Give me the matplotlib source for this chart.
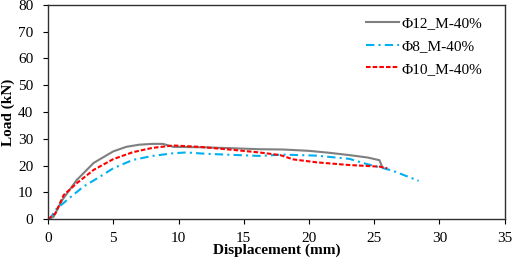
import matplotlib
matplotlib.use("Agg")
import matplotlib.pyplot as plt

plt.rcParams['font.family'] = ['Liberation Serif', 'DejaVu Serif']

phi12_x = [0, 0.43, 1.07, 2.2, 3.5, 5, 6, 7, 8, 8.8, 9.6, 12, 14, 16.2, 18, 20, 21.5, 23.1, 24.5, 25.4, 25.6]
phi12_y = [0, 0.9, 7, 14.6, 21, 25.3, 27, 27.8, 28.1, 28.1, 27, 26.8, 26.5, 26.1, 26.0, 25.5, 24.8, 23.9, 23.0, 22.0, 19.6]

phi8_x = [0, 0.2, 0.56, 1.45, 2.7, 4, 5, 6.5, 8, 9.6, 10.6, 12.1, 14.1, 16.2, 18, 20.6, 23.1, 24.4, 25.4, 26.4, 27.4, 28.4]
phi8_y = [0, 0.5, 3.4, 7.1, 12.1, 15.9, 19, 22.1, 23.6, 24.6, 24.9, 24.4, 24.0, 23.6, 24.1, 23.7, 22.5, 20.6, 19.4, 18.1, 16.2, 14.3]

phi10_x = [0, 0.56, 1.2, 2.2, 3.5, 5, 6.5, 8, 9.6, 11.6, 14.1, 16.2, 17.8, 18.8, 20.6, 23.1, 25.4, 26.0]
phi10_y = [0, 2.1, 9, 13.4, 18.4, 22.4, 25, 26.6, 27.5, 27, 25.9, 24.9, 23.9, 22.3, 21.2, 20.2, 19.6, 19.0]

labels = ['Φ12_M-40%', 'Φ8_M-40%', 'Φ10_M-40%']

fig = plt.figure(figsize=(5.12, 2.59), dpi=100)
ax = fig.add_axes([0.0938, 0.154, 0.892, 0.827])

ax.plot(phi12_x, phi12_y, color='#7f7f7f', lw=1.5, ls='-', label=labels[0])
ax.plot(phi8_x, phi8_y, color='#00b0f0', lw=1.5, ls=(0, (4, 2, 1, 2)), label=labels[1])
ax.plot(phi10_x, phi10_y, color='#ff0000', lw=1.5, ls=(0, (2.2, 1.0)), label=labels[2])

ax.set_xlim(0, 35)
ax.set_ylim(0, 80)
ax.set_xticks(range(0, 36, 5))
ax.set_yticks(range(0, 81, 10))
ax.tick_params(direction='out', labelsize=11, length=3.6, width=0.8)
ax.tick_params(axis='x', pad=5.5)
ax.tick_params(axis='y', pad=7)
for s in ax.spines.values():
    s.set_linewidth(1.0)
    s.set_color('#303030')

ax.set_xlabel('Displacement (mm)', fontsize=11, fontweight='bold', labelpad=-1)
ax.set_ylabel('Load (kN)', fontsize=11, fontweight='bold', labelpad=2)

leg = ax.legend(loc='upper right', bbox_to_anchor=(0.965, 0.975), frameon=False,
                fontsize=11, handlelength=2.15, handletextpad=0.2,
                labelspacing=0.6, borderaxespad=0)

fig.savefig('out.png', dpi=100)
